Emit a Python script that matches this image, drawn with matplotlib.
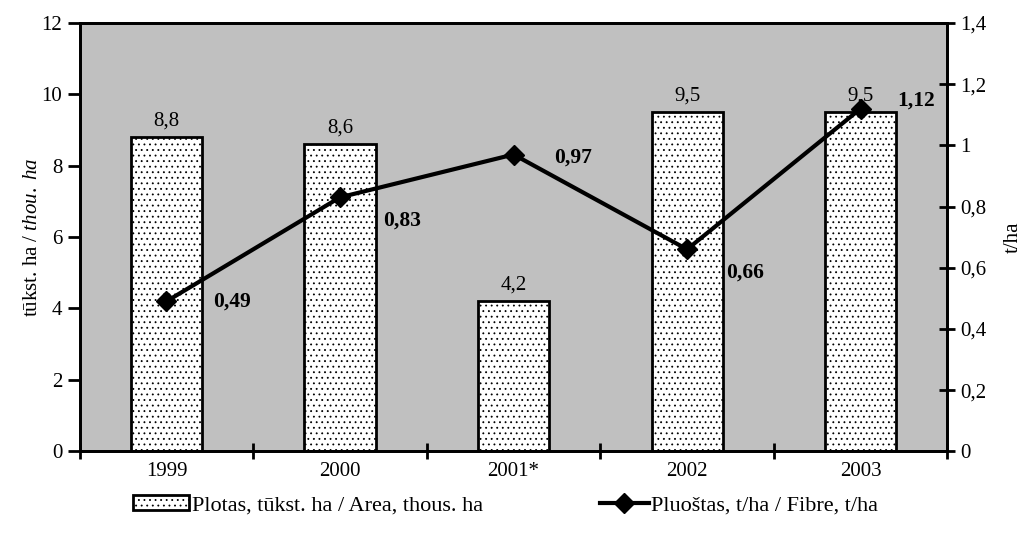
import matplotlib.pyplot as plt
import numpy as np

plt.rcParams['font.family'] = ['Liberation Serif', 'DejaVu Serif']
plt.rcParams['mathtext.fontset'] = 'custom'
plt.rcParams['mathtext.rm'] = 'Liberation Serif'
plt.rcParams['mathtext.it'] = 'Liberation Serif:italic'
plt.rcParams['hatch.linewidth'] = 0.6

years = ['1999', '2000', '2001*', '2002', '2003']
area = [8.8, 8.6, 4.2, 9.5, 9.5]
fibre = [0.49, 0.83, 0.97, 0.66, 1.12]
# label offsets for the fibre values (points)
fibre_off = [(47, 0), (45, -17), (43, -2), (42, -17), (40, 6)]

fig = plt.figure(figsize=(10.22, 5.34), dpi=100)
ax = fig.add_axes([0.078, 0.155, 0.849, 0.802])
ax.set_facecolor('#c0c0c0')
x = np.arange(len(years))

bars = ax.bar(x, area, width=0.41, color='white', edgecolor='black', linewidth=2,
              hatch='...', zorder=2)
for xi, v in zip(x, area):
    ax.annotate(f'{v:.1f}'.replace('.', ','), (xi, v), xytext=(0, 5),
                textcoords='offset points', ha='center', va='bottom', fontsize=15)

ax.set_xlim(-0.5, 4.5)
ax.set_ylim(0, 12)
ax.set_yticks(range(0, 13, 2))
ax.set_xticks(x)
ax.set_xticklabels(years)
ax.set_xticks(np.arange(-0.5, 5, 1), minor=True)
ax.tick_params(axis='x', which='major', length=0, pad=8, labelsize=15)
ax.tick_params(axis='x', which='minor', direction='inout', length=12, width=2)
ax.tick_params(axis='y', direction='out', length=9, width=2, labelsize=15)
ax.set_ylabel(r'tūkst. ha / $\mathit{thou.\ ha}$', fontsize=15, labelpad=0)
for s in ax.spines.values():
    s.set_linewidth(2)

ax2 = ax.twinx()
line, = ax2.plot(x, fibre, color='black', linewidth=3, marker='D', markersize=10.5,
                 zorder=3)
for xi, v, off in zip(x, fibre, fibre_off):
    ax2.annotate(f'{v:.2f}'.replace('.', ','), (xi, v), xytext=off,
                 textcoords='offset points', ha='center', va='center',
                 fontsize=15.5, fontweight='bold')
ax2.set_ylim(0, 1.4)
ax2.set_yticks(np.arange(0, 1.41, 0.2))
ax2.set_yticklabels(['0', '0,2', '0,4', '0,6', '0,8', '1', '1,2', '1,4'])
ax2.tick_params(axis='y', direction='inout', length=12, width=2, labelsize=15)
ax2.set_ylabel('t/ha', fontsize=15, labelpad=12)
for s in ax2.spines.values():
    s.set_linewidth(2)

leg_y = 1 - 505 / 534
fig.legend([bars], ['Plotas, tūkst. ha / Area, thous. ha'], loc='center left',
           bbox_to_anchor=(133 / 1022, leg_y), frameon=False, fontsize=16,
           handlelength=2.5, handletextpad=0.15, borderpad=0, borderaxespad=0)
fig.legend([line], ['Pluoštas, t/ha / Fibre, t/ha'], loc='center left',
           bbox_to_anchor=(600 / 1022, leg_y), frameon=False, fontsize=16,
           handlelength=2.2, handletextpad=0.1, borderpad=0, borderaxespad=0)

fig.savefig('out.png', dpi=100)
